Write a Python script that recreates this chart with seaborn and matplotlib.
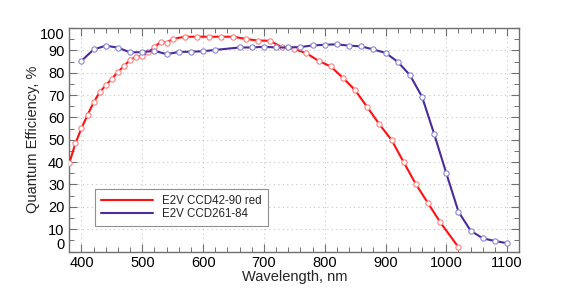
import matplotlib
matplotlib.use("Agg")
import matplotlib.pyplot as plt
from matplotlib.lines import Line2D
from matplotlib.ticker import MultipleLocator
import seaborn as sns

# E2V CCD42-90 red
red_wl = [380, 390, 400, 410, 420, 430, 440, 450, 460, 470, 480, 490, 500, 510,
          520, 530, 540, 550, 570, 590, 610, 630, 650, 670, 690, 710, 730, 750,
          770, 790, 810, 830, 850, 870, 890, 910, 930, 950, 970, 990, 1020]
red_qe = [39.5, 48.4, 55.1, 61.1, 66.7, 71.3, 74.4, 77.3, 80.3, 83.1, 85.7, 87.2,
          87.5, 89.2, 91.4, 93.8, 93.5, 95.1, 96.1, 96.1, 96.1, 96.1, 96.1, 95.1,
          94.4, 94.3, 91.3, 90.6, 88.7, 85.3, 82.8, 77.7, 72.2, 64.6, 56.9, 49.9,
          39.9, 30.1, 21.6, 13.1, 1.9]

# E2V CCD261-84
blue_wl = [400, 420, 440, 460, 480, 500, 520, 540, 560, 580, 600, 620, 660, 680,
           700, 720, 740, 760, 780, 800, 820, 840, 860, 880, 900, 920, 940, 960,
           980, 1000, 1020, 1040, 1060, 1080, 1100]
blue_qe = [85.3, 90.4, 92.1, 91.2, 89.1, 89.2, 89.8, 88.3, 89.3, 89.4, 89.6, 90.2,
           91.3, 91.3, 91.6, 91.3, 91.3, 91.5, 92.2, 92.5, 92.7, 92.1, 91.8, 90.4,
           88.9, 84.9, 79.0, 69.3, 52.6, 35.0, 17.8, 9.3, 5.9, 4.7, 3.7]

labels = ["E2V CCD42-90 red", "E2V CCD261-84"]
line_colors = ["#ff1010", "#4b2a9a"]
marker_colors = ["#ff8080", "#8888d8"]

sns.set_style("ticks")
plt.rcParams["font.family"] = ["Liberation Sans", "DejaVu Sans"]

fig = plt.figure(figsize=(5.62, 2.88), dpi=100)
ax = fig.add_axes([0.1233, 0.1267, 0.8007, 0.776])

for wl, qe, lc, mc in [(red_wl, red_qe, line_colors[0], marker_colors[0]),
                       (blue_wl, blue_qe, line_colors[1], marker_colors[1])]:
    sns.lineplot(x=wl, y=qe, ax=ax, color=lc, linewidth=1.5, marker="o",
                 markersize=3.8, markerfacecolor="white", markeredgecolor=mc,
                 markeredgewidth=0.8, zorder=3)

ax.set_xlim(380, 1120)
ax.set_ylim(0, 100)
ax.set_xticks(range(400, 1101, 100))
ax.set_yticks(range(0, 101, 10))
ax.xaxis.set_minor_locator(MultipleLocator(20))
ax.yaxis.set_minor_locator(MultipleLocator(5))

ax.grid(True, which="major", linestyle=(0, (1, 3)), color="#c8c8c8", linewidth=0.8)
ax.tick_params(which="both", direction="in", top=True, right=True, color="#707070",
               labelsize=10.5, labelcolor="black")
ax.tick_params(which="major", length=6, width=0.8)
ax.tick_params(which="minor", length=3.5, width=0.7)
for s in ax.spines.values():
    s.set_color("#707070")
    s.set_linewidth(1.0)

# end labels shifted inward, as in the original
ylabs = ax.get_yticklabels()
ylabs[0].set_va("bottom")
ylabs[-1].set_va("top")

ax.set_xlabel("Wavelength, nm", fontsize=10.5, labelpad=0)
ax.set_ylabel("Quantum Efficiency, %", fontsize=10.5, labelpad=0)

handles = [Line2D([], [], color=c, linewidth=1.5) for c in line_colors]
leg = ax.legend(handles, labels, loc="lower left", bbox_to_anchor=(0.045, 0.088),
                fontsize=8.3, handlelength=4.5, handletextpad=0.8, borderpad=0.5,
                labelspacing=0.1, fancybox=False, framealpha=1, edgecolor="#909090")
leg.get_frame().set_linewidth(0.8)

fig.savefig("out.png", dpi=100)
